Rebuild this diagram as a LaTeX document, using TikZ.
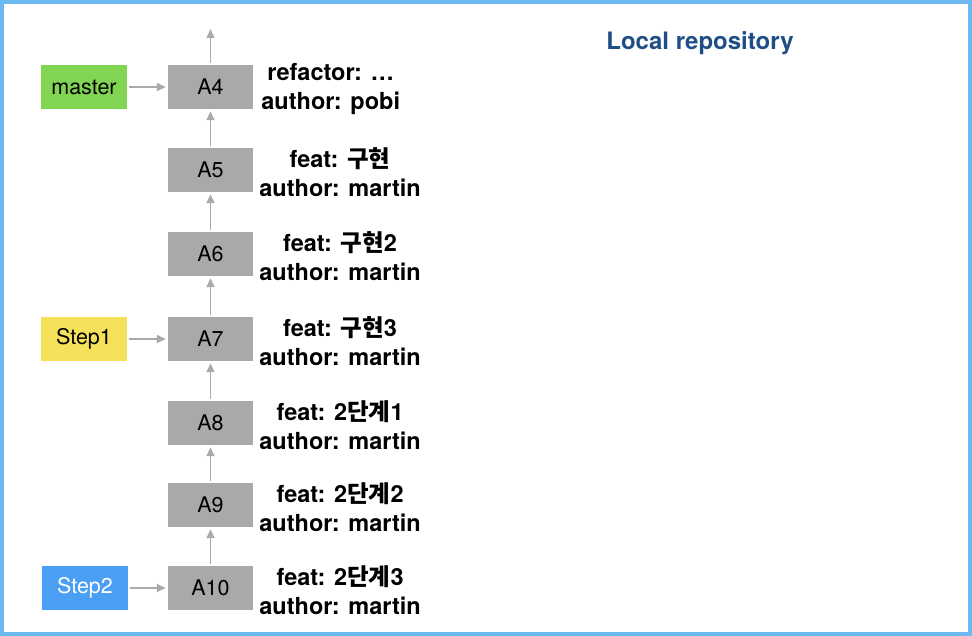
\documentclass[tikz,border=0pt]{standalone}
\usepackage{fontspec}
\setmainfont{TeX Gyre Heros}
\newfontfamily\kr{Noto Sans CJK KR}
\usetikzlibrary{arrows.meta}
\definecolor{frameblue}{HTML}{6CB8F0}
\definecolor{commitgray}{HTML}{A9A9A9}
\definecolor{arrowgray}{HTML}{AAAAAA}
\definecolor{mastergreen}{HTML}{82D552}
\definecolor{stepyellow}{HTML}{F5E15A}
\definecolor{stepblue}{HTML}{4A9FF5}
\definecolor{titleblue}{HTML}{1F4E85}
\tikzset{
  commit/.style={fill=commitgray, minimum width=85pt, minimum height=44pt,
    inner sep=0pt, font=\fontsize{21.5}{24}\selectfont},
  ref/.style={minimum width=86pt, minimum height=44pt, inner sep=0pt,
    font=\fontsize{21.5}{24}\selectfont},
  msg/.style={anchor=west, align=center, inner sep=0pt,
    font=\fontsize{23.5}{29}\selectfont\bfseries},
  link/.style={draw=arrowgray, line width=1.5pt,
    -{Triangle[length=9pt,width=8pt]}, shorten >=2pt, shorten <=2pt},
}
\begin{document}
\begin{tikzpicture}[x=1pt,y=-1pt]
\useasboundingbox (0,0) rectangle (972,636);
% outer frame
\draw[frameblue, line width=4pt] (2,2) rectangle (970,634);
\node[font=\fontsize{24}{28}\selectfont\bfseries, text=titleblue] (title) at (700,43) {Local repository};

% commits
\node[commit] (A4)  at (210.5,87)  {A4};
\node[commit] (A5)  at (210.5,170) {A5};
\node[commit] (A6)  at (210.5,254) {A6};
\node[commit] (A7)  at (210.5,339) {A7};
\node[commit] (A8)  at (210.5,423) {A8};
\node[commit] (A9)  at (210.5,505) {A9};
\node[commit] (A10) at (210.5,588) {A10};

% branch pointers
\node[ref, fill=mastergreen] (master) at (84,87) {master};
\node[ref, fill=stepyellow] (step1) at (84,339) {Step1};
\node[ref, fill=stepblue, text=white] (step2) at (85,588) {Step2};

% commit messages
\node[msg] (m4)  at ([xshift=8pt,yshift=-2pt]A4.east)  {refactor: \dots\\author: pobi};
\node[msg] (m5)  at ([xshift=6pt,yshift=-2pt]A5.east)  {feat: {\kr 구현}\\author: martin};
\node[msg] (m6)  at ([xshift=6pt,yshift=-2pt]A6.east)  {feat: {\kr 구현}2\\author: martin};
\node[msg] (m7)  at ([xshift=6pt,yshift=-2pt]A7.east)  {feat: {\kr 구현}3\\author: martin};
\node[msg] (m8)  at ([xshift=6pt,yshift=-2pt]A8.east)  {feat: 2{\kr 단계}1\\author: martin};
\node[msg] (m9)  at ([xshift=6pt,yshift=-2pt]A9.east)  {feat: 2{\kr 단계}2\\author: martin};
\node[msg] (m10) at ([xshift=6pt,yshift=-2pt]A10.east) {feat: 2{\kr 단계}3\\author: martin};

% parent links
\coordinate (head) at (210.5,27);
\draw[link] (A4) -- (head);
\draw[link] (A5) -- (A4);
\draw[link] (A6) -- (A5);
\draw[link] (A7) -- (A6);
\draw[link] (A8) -- (A7);
\draw[link] (A9) -- (A8);
\draw[link] (A10) -- (A9);
\draw[link] (master) -- (A4);
\draw[link] (step1) -- (A7);
\draw[link] (step2) -- (A10);
\end{tikzpicture}
\end{document}
